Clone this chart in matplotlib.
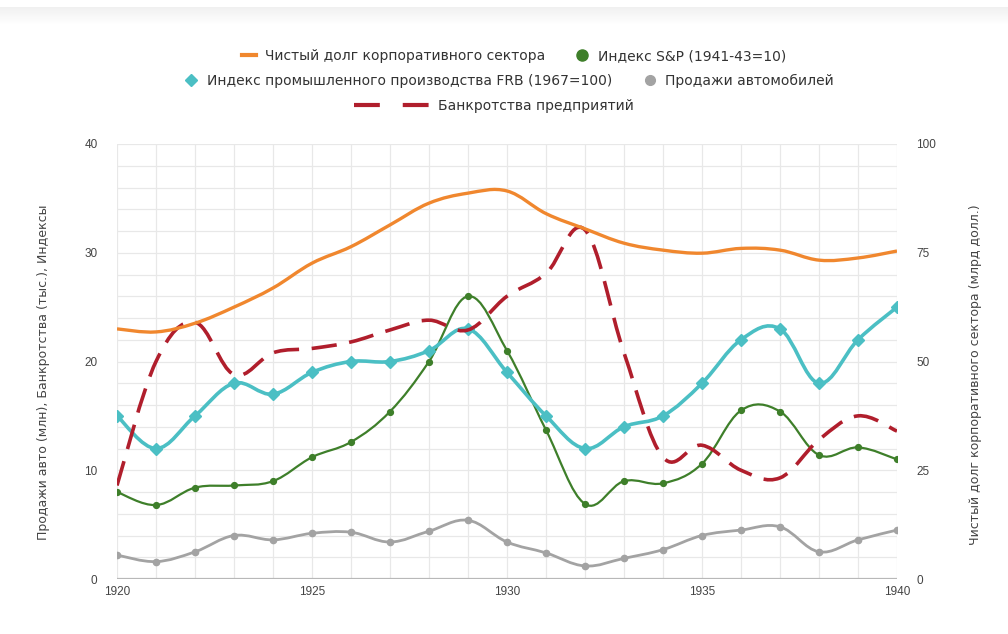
import numpy as np
import matplotlib
matplotlib.use("Agg")
import matplotlib.pyplot as plt
from matplotlib.path import Path
from matplotlib.patches import PathPatch
from matplotlib.lines import Line2D

plt.rcParams['font.family'] = ['Liberation Sans', 'DejaVu Sans']

years = list(range(1920, 1941))
debt = [57.5, 56.8, 58.8, 62.5, 66.9, 72.6, 76.4, 81.4, 86.4, 88.7, 89.2,
        84.0, 80.5, 77.2, 75.6, 74.9, 76.0, 75.6, 73.3, 73.8, 75.4]
sp = [8.0, 6.8, 8.4, 8.6, 9.0, 11.2, 12.6, 15.4, 20.0, 26.0, 21.0,
      13.7, 6.9, 9.0, 8.8, 10.6, 15.5, 15.4, 11.4, 12.1, 11.0]
frb = [15, 12, 15, 18, 17, 19, 20, 20, 21, 23, 19,
       15, 12, 14, 15, 18, 22, 23, 18, 22, 25]
autos = [2.2, 1.6, 2.5, 4.0, 3.6, 4.2, 4.3, 3.4, 4.4, 5.4, 3.4,
         2.4, 1.2, 1.9, 2.7, 4.0, 4.5, 4.8, 2.5, 3.6, 4.5]
bankr = [8.6, 20.0, 23.6, 18.8, 20.8, 21.2, 21.8, 22.9, 23.8, 22.9, 26.0,
         28.1, 32.1, 20.8, 11.2, 12.3, 10.0, 9.3, 12.8, 15.0, 13.6]

labels = ["Чистый долг корпоративного сектора", "Индекс S&P (1941-43=10)",
          "Индекс промышленного производства FRB (1967=100)", "Продажи автомобилей",
          "Банкротства предприятий"]
c_orange = "#f0872e"
c_green = "#3e7f2a"
c_cyan = "#4bbfc4"
c_gray = "#a3a3a3"
c_red = "#b01e2c"
wide = ['DejaVu Sans']


def smooth_path(x, y, s=0.18):
    x = np.asarray(x, float)
    y = np.asarray(y, float)
    n = len(x)
    verts = [(x[0], y[0])]
    codes = [Path.MOVETO]
    for i in range(n - 1):
        p0 = np.array([x[max(i - 1, 0)], y[max(i - 1, 0)]])
        p1 = np.array([x[i], y[i]])
        p2 = np.array([x[i + 1], y[i + 1]])
        p3 = np.array([x[min(i + 2, n - 1)], y[min(i + 2, n - 1)]])
        c1 = p1 + (p2 - p0) * s
        c2 = p2 - (p3 - p1) * s
        verts += [tuple(c1), tuple(c2), tuple(p2)]
        codes += [Path.CURVE4] * 3
    return Path(verts, codes)


def add_curve(ax, x, y, **kw):
    patch = PathPatch(smooth_path(x, y), fill=False, **kw)
    ax.add_patch(patch)


fig = plt.figure(figsize=(10.08, 6.34), dpi=100)
fig.patch.set_facecolor("white")
# top grey band (page background strip)
band = fig.add_axes([0.0, 1 - 25 / 634, 1, 18 / 634])
band.imshow(np.linspace(0.94, 1.0, 50).reshape(-1, 1), cmap="gray", vmin=0, vmax=1,
            aspect="auto", extent=[0, 1, 0, 1])
band.axis("off")

L, R, B, T = 117, 897, 579, 144
ax = fig.add_axes([L / 1008, 1 - B / 634, (R - L) / 1008, (B - T) / 634])
ax2 = ax.twinx()
ax.set_xlim(1920, 1940)
ax.set_ylim(0, 40)
ax2.set_ylim(0, 100)

ax.set_xticks([1920, 1925, 1930, 1935, 1940])
ax.set_xticks(years, minor=True)
ax.set_yticks([0, 10, 20, 30, 40])
ax.set_yticks(np.arange(0, 41, 2), minor=True)
ax2.set_yticks([0, 25, 50, 75, 100])
ax.grid(True, which="both", color="#e8e8e8", lw=0.9)
ax.set_axisbelow(True)
for a in (ax, ax2):
    for sp_ in a.spines.values():
        sp_.set_visible(False)
ax.axhline(0, color="#b8b8b8", lw=1.6, zorder=1)
ax.tick_params(which="both", length=0, colors="#444444", labelsize=8.5)
ax2.tick_params(which="both", length=0, colors="#444444", labelsize=8.5)
ax.tick_params(axis="y", pad=14)
ax2.tick_params(axis="y", pad=14)
ax.tick_params(axis="x", pad=5)

ax.set_ylabel("Продажи авто (млн), Банкротства (тыс.), Индексы", fontsize=9,
              family=wide, color="#444444")
ax.yaxis.set_label_coords((50 - L) / (R - L), (579 - 372) / (B - T))
ax2.set_ylabel("Чистый долг корпоративного сектора (млрд долл.)", fontsize=9,
               family=wide, color="#444444", rotation=90)
ax2.yaxis.set_label_coords((969 - L) / (R - L), (579 - 375) / (B - T))

# series
add_curve(ax2, years, debt, color=c_orange, lw=2.4, zorder=3)
add_curve(ax, years, autos, color=c_gray, lw=2.0, zorder=3)
ax.plot(years, autos, "o", color=c_gray, ms=4.5, zorder=4)
add_curve(ax, years, sp, color=c_green, lw=1.6, zorder=3)
ax.plot(years, sp, "o", color=c_green, ms=4.2, zorder=4)
add_curve(ax, years, frb, color=c_cyan, lw=2.6, zorder=3)
ax.plot(years, frb, "D", color=c_cyan, ms=6, zorder=4)
add_curve(ax, years, bankr, color=c_red, lw=2.6, zorder=5, linestyle=(0, (7, 3.5)))

# legend
h_orange = Line2D([], [], color=c_orange, lw=3)
h_green = Line2D([], [], color=c_green, marker="o", ls="none", ms=8)
h_cyan = Line2D([], [], color=c_cyan, marker="D", ls="none", ms=6.5)
h_gray = Line2D([], [], color=c_gray, marker="o", ls="none", ms=7)
h_red = Line2D([], [], color=c_red, lw=3, ls=(0, (6.2, 5.5)))
common = dict(frameon=False, prop={'family': wide, 'size': 10}, labelcolor="#333333",
              handletextpad=0.6, columnspacing=2.2, borderaxespad=0, borderpad=0)
lg1 = fig.legend([h_orange, h_green], labels[:2], loc="center", ncol=2,
                 bbox_to_anchor=(0.51, 1 - 56 / 634), handlelength=1.0, **common)
lg2 = fig.legend([h_cyan, h_gray], labels[2:4], loc="center", ncol=2,
                 bbox_to_anchor=(0.505, 1 - 81 / 634), handlelength=1.0, **common)
lg3 = fig.legend([h_red], labels[4:], loc="center", ncol=1,
                 bbox_to_anchor=(0.49, 1 - 106 / 634), handlelength=5.4, **common)

fig.savefig("out.png", dpi=100, facecolor="white")
